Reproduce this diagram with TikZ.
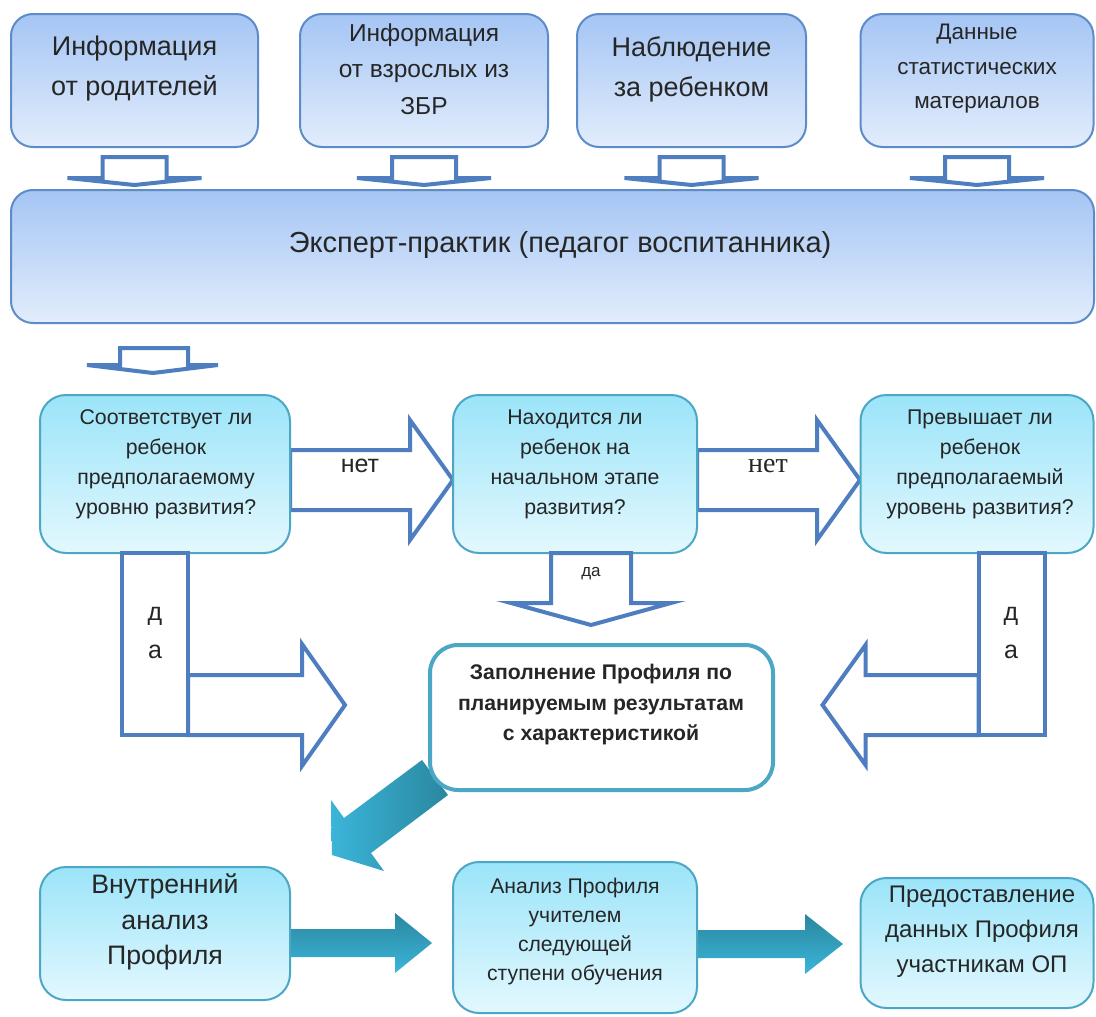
\documentclass[tikz,border=0pt]{standalone}
\usepackage{fontspec}
\setmainfont{Liberation Sans}
\newfontfamily\netserif{Liberation Serif}
\usetikzlibrary{backgrounds}

\definecolor{srctop}{HTML}{A5C5F4}
\definecolor{srcbot}{HTML}{E2EDFC}
\definecolor{srcline}{HTML}{5D8CC9}
\definecolor{qtop}{HTML}{9BE4F9}
\definecolor{qbot}{HTML}{E3F8FE}
\definecolor{qline}{HTML}{4BA7C4}
\definecolor{arrline}{HTML}{4F7EC0}
\definecolor{tealdark}{HTML}{2A879F}
\definecolor{teallight}{HTML}{3BB5D9}

\tikzset{
  srcbox/.style={draw=srcline, line width=2pt, rounded corners=22pt, outer sep=0pt,
    top color=srctop, bottom color=srcbot},
  qbox/.style={draw=qline, line width=2pt, rounded corners=26pt, outer sep=0pt,
    top color=qtop, bottom color=qbot},
  fillbox/.style={draw=qline, line width=4pt, rounded corners=28pt, outer sep=0pt, fill=white},
  hollow/.style={draw=arrline, line width=4pt, fill=white, outer sep=0pt},
  tealarrow/.style={top color=tealdark, bottom color=teallight},
  txt/.style={align=center, inner sep=0pt, text=black!85}
}

\begin{document}
\begin{tikzpicture}[x=1pt, y=-1pt]
  \useasboundingbox (0,0) rectangle (1096,1017);

  % sources of information
  \node[srcbox, minimum width=247pt, minimum height=133pt] (src1) at (134.5,80.5) {};
  \node[srcbox, minimum width=248pt, minimum height=133pt] (src2) at (424,80.5) {};
  \node[srcbox, minimum width=229pt, minimum height=133pt] (src3) at (691.5,80.5) {};
  \node[srcbox, minimum width=233pt, minimum height=133pt] (src4) at (977,80.5) {};
  \node[txt, font=\fontsize{27}{40}\selectfont] (src1t) at (134.5,69) {Информация\\от родителей};
  \node[txt, font=\fontsize{24.5}{36.5}\selectfont] (src2t) at (424,69) {Информация\\от взрослых из\\ЗБР};
  \node[txt, font=\fontsize{27}{40}\selectfont] (src3t) at (691.5,69) {Наблюдение\\за ребенком};
  \node[txt, font=\fontsize{22.5}{34.5}\selectfont] (src4t) at (977,69) {Данные\\статистических\\материалов};

  \node[srcbox, minimum width=1083pt, minimum height=133pt] (expert) at (552.5,256.5) {};
  \node[txt, font=\fontsize{29}{32}\selectfont] (expertt) at (560,245) {Эксперт-практик (педагог воспитанника)};

  % questions
  \node[qbox, minimum width=250pt, minimum height=158pt] (q1) at (165,474) {};
  \node[qbox, minimum width=244pt, minimum height=158pt] (q2) at (575,474) {};
  \node[qbox, minimum width=233pt, minimum height=158pt] (q3) at (977,474) {};
  \node[txt, font=\fontsize{21.3}{30}\selectfont] (q1t) at (166,464) {Соответствует ли\\ребенок\\предполагаемому\\уровню развития?};
  \node[txt, font=\fontsize{21.3}{30}\selectfont] (q2t) at (575,464) {Находится ли\\ребенок на\\начальном этапе\\развития?};
  \node[txt, font=\fontsize{21.3}{30}\selectfont] (q3t) at (980,464) {Превышает ли\\ребенок\\предполагаемый\\уровень развития?};

  \node[fillbox, minimum width=343pt, minimum height=145pt] (fill) at (601.5,717.5) {};
  \node[txt, font=\bfseries\fontsize{21.2}{30.5}\selectfont] (fillt) at (601,705) {Заполнение Профиля по\\планируемым результатам\\с характеристикой};

  % results
  \node[qbox, minimum width=250pt, minimum height=133pt] (bot1) at (165,933.5) {};
  \node[qbox, minimum width=244pt, minimum height=151pt] (bot2) at (575,937.5) {};
  \node[qbox, minimum width=233pt, minimum height=130pt] (bot3) at (977,943) {};
  \node[txt, font=\fontsize{26.7}{35.5}\selectfont] (bot1t) at (165,922) {Внутренний\\анализ\\Профиля};
  \node[txt, font=\fontsize{21.2}{29}\selectfont] (bot2t) at (575,932) {Анализ Профиля\\учителем\\следующей\\ступени обучения};
  \node[txt, font=\fontsize{24}{35}\selectfont] (bot3t) at (982,932) {Предоставление\\данных Профиля\\участникам ОП};

  \begin{scope}[on background layer]
    \fill[white] (0,0) rectangle (1096,1017);
    % no
    \foreach \q in {q1,q2}
      \draw[hollow] ([yshift=24pt]\q.east) -- ++(120,0) -- ++(0,-30) -- ++(43,60)
        -- ++(-43,60) -- ++(0,-30) -- ++(-120,0) -- cycle;
    % to the results
    \shade[left color=teallight, right color=tealdark, shift={(fill.south west)}]
      (-8,-30) -- (-86,28) -- (-99,10) -- (-98,65) -- (-46,81) -- (-59,63) -- (18,5) -- cycle;
    \shade[tealarrow] ([yshift=4.5pt]bot1.east) -- ++(105,0) -- ++(0,-16) -- ++(37,30)
      -- ++(-37,30) -- ++(0,-16) -- ++(-105,0) -- cycle;
    \shade[tealarrow] ([yshift=7.5pt]bot2.east) -- ++(108,0) -- ++(0,-16) -- ++(38,30)
      -- ++(-38,30) -- ++(0,-16) -- ++(-108,0) -- cycle;
  \end{scope}

  \foreach \s in {src1,src2,src3,src4}
    \draw[hollow] ([xshift=-32pt,yshift=-10pt]\s.south) -- ++(0,21) -- ++(-35,0)
      -- ++(67,7) -- ++(67,-7) -- ++(-35,0) -- ++(0,-21) -- cycle;
  \draw[hollow] ([xshift=109pt,yshift=-25pt]expert.south west) -- ++(0,17) -- ++(-33,0)
    -- ++(66,8) -- ++(65,-8) -- ++(-30,0) -- ++(0,-17) -- cycle;

  % yes
  \draw[hollow] ([xshift=-24pt]q2.south) -- ++(0,50) -- ++(-40,0) -- ++(80,22)
    -- ++(80,-22) -- ++(-40,0) -- ++(0,-50) -- cycle;
  \node[hollow, minimum width=66pt, minimum height=182pt, anchor=north] (yes1) at ([xshift=-10pt]q1.south) {};
  \node[hollow, minimum width=66pt, minimum height=182pt, anchor=north] (yes3) at ([xshift=34.5pt]q3.south) {};
  \draw[hollow] ([yshift=60pt]yes1.south east) -- ++(114,0) -- ++(0,-31) -- ++(43,61)
    -- ++(-43,61) -- ++(0,-31) -- ++(-114,0) -- cycle;
  \draw[hollow] ([yshift=60pt]yes3.south west) -- ++(-113,0) -- ++(0,-30) -- ++(-43,60)
    -- ++(43,60) -- ++(0,-30) -- ++(113,0) -- cycle;

  \node[txt, font=\fontsize{25}{38}\selectfont] (yes1t) at (155,633) {д\\а};
  \node[txt, font=\fontsize{25}{38}\selectfont] (yes3t) at (1011,633) {д\\а};
  \node[txt, font=\fontsize{17}{20}\selectfont] (yes2t) at (591,574) {да};
  \node[txt, font=\fontsize{25}{30}\selectfont] (no1t) at (360,466) {нет};
  \node[txt, font=\netserif\fontsize{28}{30}\selectfont] (no2t) at (768,466) {нет};
\end{tikzpicture}
\end{document}
